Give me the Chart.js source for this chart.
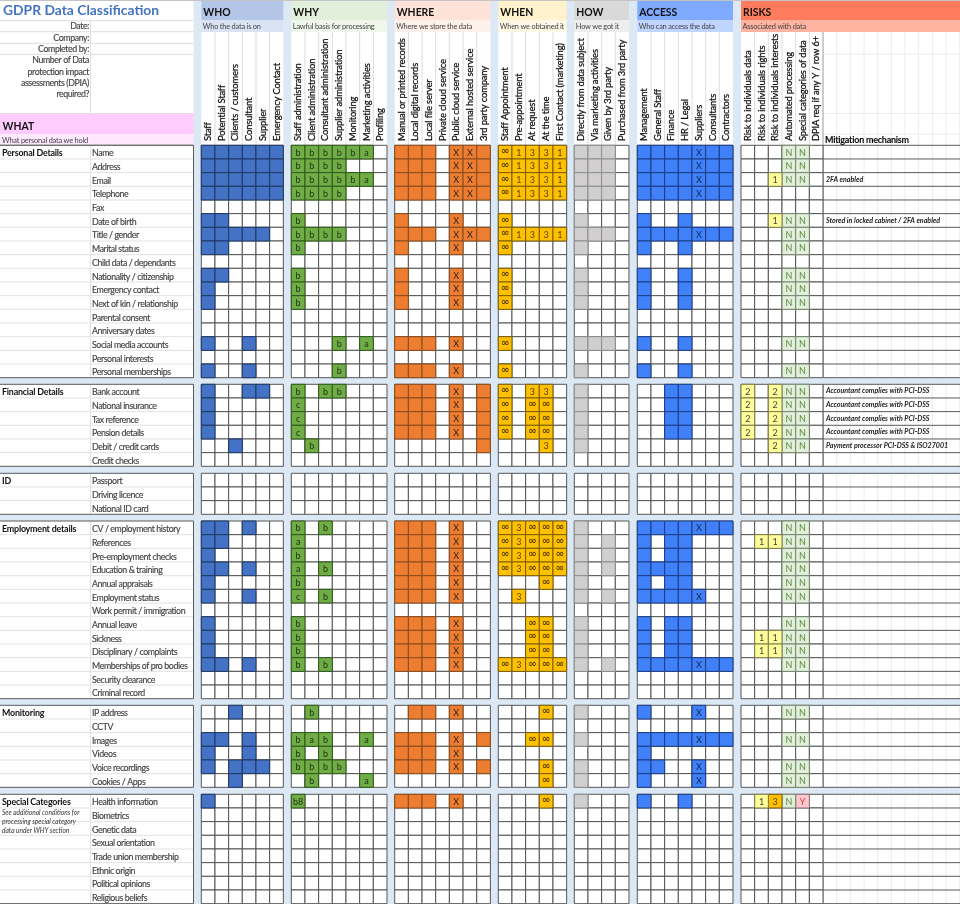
<!DOCTYPE html>
<html><head><meta charset="utf-8">
<style>html,body{margin:0;padding:0;background:#dce9f5}canvas{display:block}</style>
<script src="https://cdn.jsdelivr.net/npm/chart.js@4"></script>
</head><body><canvas id="c" width="960" height="904"></canvas>
<script>
// ---------- text ----------
const sectionNames=["Personal Details","Financial Details","ID","Employment details","Monitoring","Special Categories"];
const personalRows=["Name","Address","Email","Telephone","Fax","Date of birth","Title / gender","Marital status","Child data / dependants","Nationality / citizenship","Emergency contact","Next of kin / relationship","Parental consent","Anniversary dates","Social media accounts","Personal interests","Personal memberships"];
const financialRows=["Bank account","National insurance","Tax reference","Pension details","Debit / credit cards","Credit checks"];
const idRows=["Passport","Driving licence","National ID card"];
const employmentRows=["CV / employment history","References","Pre-employment checks","Education & training","Annual appraisals","Employment status","Work permit / immigration","Annual leave","Sickness","Disciplinary / complaints","Memberships of pro bodies","Security clearance","Criminal record"];
const monitoringRows=["IP address","CCTV","Images","Videos","Voice recordings","Cookies / Apps"];
const specialRows=["Health information","Biometrics","Genetic data","Sexual orientation","Trade union membership","Ethnic origin","Political opinions","Religious beliefs"];
const specialNote=["See additional conditions for","processing special category","data under WHY section"];
const formLabels=["Date:","Company:","Completed by:"];
const dpiaLabel=["Number of Data","protection impact","assessments (DPIA)","required?"];
const whoColumns=["Staff","Potential Staff","Clients / customers","Consultant","Supplier","Emergency Contact"];
const whyColumns=["Staff administration","Client administration","Consultant administration","Supplier administration","Monitoring","Marketing activities","Profiling"];
const whereColumns=["Manual or printed records","Local digital records","Local file server","Private cloud service","Public cloud service","External hosted service","3rd party company"];
const whenColumns=["Staff Appointment","Pre-appointment","At request","At the time","First Contact (marketing)"];
const howColumns=["Directly from data subject","Via marketing activities","Given by 3rd party","Purchased from 3rd party"];
const accessColumns=["Management","General Staff","Finance","HR / Legal","Suppliers","Consultants","Contractors"];
const riskColumns=["Risk to individuals data","Risk to individuals rights","Risk to individuals interests","Automated processing","Special categories of data","DPIA req if any Y / row 6+"];
// ---------- cell values, one string per row ('.' empty, 'o' filled, other = shown text) ----------
const whoCells=["oooooo","oooooo","oooooo","oooooo","......","oo....","ooooo.","oo....","......","oo....","o.....","o.....","......","......","o..o..","......","o..o..",
"o..oo.","o.....","o.....","o.....","..o...","......",
"......","......","......",
"oo.o..","oo....","o.....","oo.o..","o.....","o..o..","......","o.....","o.....","o.....","oo.o..","......","......",
"..o...","......","oo.o..","o..o..","o.ooo.","..o...",
"o.....","......","......","......","......","......","......","......"];
const whyCells=["bbbbba.","bbbb...","bbbbba.","bbbb...",".......","b......","bbbb...","b......",".......","b......","b......","b......",".......",".......","...b.a.",".......","...b...",
"b.bb...","c......","c......","c......",".b.....",".......",
".......",".......",".......",
"b.b....","a......","b......","a.b....","b......","c.b....",".......","b......","b......","b......","b.b....",".......",".......",
".b.....",".......","bab..a.","b.b....","bbbb...",".b...a.",
"8......",".......",".......",".......",".......",".......",".......","......."];
const whereCells=["ooo.XXo","ooo.XXo","ooo.XXo","ooo.XXo",".......","o...X..","ooo.XXo","o...X..",".......","o...X..","o...X..","o...X..",".......",".......","ooo.X..",".......","ooo.X..",
"ooo.X.o","ooo.X.o","ooo.X.o","ooo.X.o","......o",".......",
".......",".......",".......",
"ooo.X..","ooo.X..","ooo.X..","ooo.X..","ooo.X..","ooo.X..",".......","ooo.X..","ooo.X..","ooo.X..","ooo.X..",".......",".......",
".oo.X..",".......","ooo.X.o","ooo.X..","ooo.X.o",".......",
"ooo.X..",".......",".......",".......",".......",".......",".......","......."];
const whenCells=["∞1331","∞1331","∞1331","∞1331",".....","∞....","∞1331","∞....",".....","∞....","∞....","∞....",".....",".....","∞....",".....","∞....",
"∞.33.","∞.∞∞.","∞.∞∞.","∞.∞∞.","...3.",".....",
".....",".....",".....",
"∞3∞∞∞","∞3∞∞∞","∞3∞∞∞","∞3∞∞∞","...∞.",".3...",".....","..∞∞.","..∞∞.","..∞∞.","∞3∞∞∞",".....",".....",
"...∞.",".....","..∞∞.",".....","...∞.","...∞.",
"...∞.",".....",".....",".....",".....",".....",".....","....."];
const howCells=["ooo.","ooo.","ooo.","ooo.","....","o...","ooo.","o...","....","o...","o...","o...","....","....","ooo.","....","o...",
"o...","o...","o...","o...","o...","....",
"....","....","....",
"o...","o.o.","o.o.","o.o.","o...","o.o.","....","o...","o...","o...","o.o.","....","....",
"o...","....","o...","....","o...","o...",
"o...","....","....","....","....","....","....","...."];
const accessCells=["ooooXoo","ooooXoo","ooooXoo","ooooXoo",".......","o..o...","ooooXoo","o..o...",".......","o..o...","o..o...","o..o...",".......",".......","o..o...",".......","o..o...",
"..oo...","..oo...","..oo...","..oo...",".......",".......",
".......",".......",".......",
"ooooXoo","o.oo...","o.oo...","oooo...","o.oo...","ooooX..",".......","o.oo...","o.oo...","o.oo...","ooooXoo",".......",".......",
"o...X..",".......","ooooXoo","o......","oo..X..","o...X..",
"o..o...",".......",".......",".......",".......",".......",".......","......."];
const riskCells=["...NN.","...NN.","..1NN.","......","......","..1NN.","...NN.","...NN.","......","...NN.","...NN.","...NN.","......","......","...NN.","......","...NN.",
"2.2NN.","2.2NN.","2.2NN.","2.2NN.","..2NN.","......",
"......","......","......",
"...NN.",".11NN.","...NN.","...NN.","...NN.","...NN.","......","...NN.",".11NN.",".11NN.","...NN.","......","......",
"...NN.","......","...NN.","......","...NN.","...NN.",
".13NY.","......","......","......","......","......","......","......"];
const mitigationNotes={2:"2FA enabled",5:"Stored in locked cabinet / 2FA enabled",17:"Accountant complies with PCI-DSS",18:"Accountant complies with PCI-DSS",19:"Accountant complies with PCI-DSS",20:"Accountant complies with PCI-DSS",21:"Payment processor PCI-DSS & ISO27001"};

// ---------- layout (sheet pixels on the linear axes) ----------
const U=13.67;
const sectionTops=[145.3,384.3,473.3,521,705.3,794.3];
const sectionRows=[personalRows,financialRows,idRows,employmentRows,monitoringRows,specialRows];
const rowTop=[];sectionRows.forEach((s,i)=>s.forEach((_,j)=>rowTop.push(sectionTops[i]+j*U)));
const allRows=sectionRows.flat();
const groups=[
 {title:"WHO",sub:"Who the data is on",cols:whoColumns,cells:whoCells,left:201.3,head:"#b4c6e7",subHead:"#dae3f3",fill:"#4472c4",line:"#1f3864",ink:"#222"},
 {title:"WHY",sub:"Lawful basis for processing",cols:whyColumns,cells:whyCells,left:291.3,head:"#e2efda",subHead:"#eff6ea",fill:"#70ad47",line:"#2f5a18",ink:"#1d2f12"},
 {title:"WHERE",sub:"Where we store the data",cols:whereColumns,cells:whereCells,left:394.7,head:"#fde3d7",subHead:"#fef0ea",fill:"#ed7d31",line:"#8a4c1c",ink:"#2e2018"},
 {title:"WHEN",sub:"When we obtained it",cols:whenColumns,cells:whenCells,left:498.3,head:"#fff2cc",subHead:"#fff8e6",fill:"#ffc000",line:"#7a5e08",ink:"#5c4500"},
 {title:"HOW",sub:"How we got it",cols:howColumns,cells:howCells,left:574.3,head:"#d9d9d9",subHead:"#eeeeee",fill:"#d0cece",line:"#8f8f8f",ink:"#222"},
 {title:"ACCESS",sub:"Who can access the data",cols:accessColumns,cells:accessCells,left:637.3,head:"#7faaff",subHead:"#bfd4ff",fill:"#4080f8",line:"#1a3d85",ink:"#14264a"},
 {title:"RISKS",sub:"Associated with data",cols:riskColumns,cells:riskCells,left:741,head:"#ff7d5e",subHead:"#ffb3a1",fill:null,line:"#555",ink:"#333"}
];
const riskStyles={"1":["#ffff99","#7c7c4c","#444"],"2":["#ffff99","#7c7c4c","#444"],"3":["#ffc000","#7a5e08","#5c4500"],"N":["#e2efda","#77876e","#5b8a3f"],"Y":["#ffc7ce","#8c7478","#d03c3c"]};
const R=U/Math.SQRT2, FAM="Lato, 'Open Sans', sans-serif";

// ---------- datasets ----------
function ds(points,bg,line,ink){return{data:points,backgroundColor:bg,borderColor:line,borderWidth:1,pointStyle:'rect',pointRadius:R,pointHoverRadius:R,rotation:0,ink,showLine:false,clip:false};}
const blank=[];const sets=[];
groups.forEach(g=>{
  const filled=[];const risk={};
  g.cells.forEach((row,r)=>{
    [...row].forEach((c,i)=>{
      const p={x:g.left+(i+.5)*U,y:rowTop[r]+U/2,t:c==='8'?'b8':c};
      blank.push({x:p.x,y:p.y,t:'.'});
      if(c==='.')return;
      if(g.fill)filled.push(p);else(risk[c]=risk[c]||[]).push(p);
    });
  });
  if(g.fill)sets.push(ds(filled,g.fill,g.line,g.ink));
  Object.keys(risk).forEach(k=>{const s=riskStyles[k];sets.push(ds(risk[k],s[0],s[1],s[2]));});
});
sets.push(ds(blank,"#ffffff","#555555"));

// ---------- drawing helpers ----------
const sheetPlugin={id:'sheet',
 beforeDatasetsDraw(chart){
  const c=chart.ctx,X=v=>chart.scales.x.getPixelForValue(v),Y=v=>chart.scales.y.getPixelForValue(v);
  const rect=(a,b,w,h,col)=>{c.fillStyle=col;c.fillRect(X(a),Y(b),X(a+w)-X(a),Y(b+h)-Y(b));};
  const hl=(a,b,y,col)=>{c.strokeStyle=col;c.lineWidth=1;c.beginPath();c.moveTo(X(a),Y(y));c.lineTo(X(b),Y(y));c.stroke();};
  const vl=(x,a,b,col)=>{c.strokeStyle=col;c.lineWidth=1;c.beginPath();c.moveTo(X(x),Y(a));c.lineTo(X(x),Y(b));c.stroke();};
  rect(0,0,960,904,"#dce9f5");
  // top-left form block
  rect(0,0,193.5,114,"#ffffff");
  [20.7,31.7,43.3,54.3,113.5].forEach(y=>hl(0,193.5,y,"#dedede"));
  vl(90.5,20.7,113.5,"#dedede");
  rect(0,114,193.5,20,"#ffccff");rect(0,134,193.5,11.3,"#ffe9ff");
  // group headers
  groups.forEach((g,n)=>{
    const w=g.cols.length*U, right=n===6?960:g.left+w;
    rect(g.left,1,right-g.left,19,g.head);
    rect(g.left,20,right-g.left,12,g.subHead);
    rect(g.left,32,right-g.left,113.3,"#ffffff");
    g.cols.forEach((_,i)=>{if(i)vl(g.left+i*U,32,145.3,"#dcdcdc");});
  });
  const mx=823;
  for(let x=mx+U;x<960;x+=U)vl(x,32,145.3,"#ececec");
  [54,113.5,134].forEach(y=>hl(mx,960,y,"#ececec"));
  vl(mx,32,145.3,"#9a9a9a");
  hl(0,960,0.5,"#c4c4c4");
  hl(0,193.5,145.3,"#555");
  // section bodies
  sectionRows.forEach((s,i)=>{
    const t=sectionTops[i],b=t+s.length*U;
    rect(0,t,193.5,b-t,"#ffffff");
    rect(mx,t,960-mx,b-t,"#ffffff");
    for(let x=mx+U;x<960;x+=U)vl(x,t,b,"#ececec");
    for(let j=1;j<s.length;j++){hl(0,193.5,t+j*U,"#e2e2e2");}
    for(let j=0;j<=s.length;j++){hl(mx,960,t+j*U,"#5a5a5a");}
    vl(90.5,t,b,"#e2e2e2");
    hl(0,193.5,t,"#5a5a5a");hl(0,193.5,b,"#5a5a5a");
    vl(193.5,t,b,"#5a5a5a");
    vl(mx,t,b,"#8a8a8a");
  });
 },
 afterDatasetsDraw(chart){
  const c=chart.ctx,X=v=>chart.scales.x.getPixelForValue(v),Y=v=>chart.scales.y.getPixelForValue(v);
  const txt=(s,x,y,font,col,al,sp,heavy)=>{c.font=font;c.fillStyle=col;c.textAlign=al||'left';c.textBaseline='middle';c.letterSpacing=(sp||0)+'px';c.fillText(s,X(x),Y(y));if(heavy){c.strokeStyle=col;c.lineWidth=heavy;c.strokeText(s,X(x),Y(y));}c.letterSpacing='0px';};
  // cell texts
  chart.data.datasets.forEach((d,i)=>{
    const m=chart.getDatasetMeta(i);
    m.data.forEach((pt,j)=>{
      const t=d.data[j].t;if(t==='o'||t==='.')return;
      if(t==='∞'){c.font="bold 10.5px 'DejaVu Sans'";}else{c.font="9px "+FAM;}
      c.fillStyle=d.ink;c.textAlign='center';c.textBaseline='middle';
      c.fillText(t,pt.x,pt.y+(t==='∞'?-0.5:0.5));
    });
  });
  // header texts
  txt("GDPR Data Classification",3,11,"bold 13.85px "+FAM,"#4472c4");
  formLabels.forEach((s,i)=>txt(s,89,[26.5,38,49.3][i],"8.8px "+FAM,"#444",'right',-0.4,0.15));
  dpiaLabel.forEach((s,i)=>txt(s,89,60.5+i*11.3,"8.8px "+FAM,"#444",'right',-0.4,0.15));
  txt("WHAT",2.5,126.5,"bold 10.4px "+FAM,"#111");
  txt("What personal data we hold",2,140.3,"7.4px "+FAM,"#444",'left',-0.2);
  groups.forEach(g=>{
    txt(g.title,g.left+2,12.5,"bold 10.4px "+FAM,"#111");
    txt(g.sub,g.left+1.5,26.8,"7.4px "+FAM,"#444",'left',-0.2);
    g.cols.forEach((s,i)=>{
      c.save();c.translate(X(g.left+(i+.5)*U),Y(141));c.rotate(-Math.PI/2);
      c.font="9.4px "+FAM;c.letterSpacing='-0.15px';c.fillStyle="#111";c.strokeStyle="#111";c.lineWidth=0.25;c.textAlign='left';c.textBaseline='middle';c.fillText(s,0,0);c.strokeText(s,0,0);c.letterSpacing='0px';c.restore();
    });
  });
  txt("Mitigation mechanism",825,140,"bold 9px "+FAM,"#111",'left',-0.25,0.1);
  // row texts
  sectionNames.forEach((s,i)=>txt(s,2,sectionTops[i]+U/2+1.3,"bold 8.9px "+FAM,"#111",'left',-0.2));
  allRows.forEach((s,r)=>txt(s,92,rowTop[r]+U/2+1.5,"8.8px "+FAM,"#444",'left',-0.4,0.15));
  specialNote.forEach((s,i)=>txt(s,2,812.7+i*9.2,"italic 6.6px "+FAM,"#333"));
  Object.keys(mitigationNotes).forEach(r=>txt(mitigationNotes[r],826,rowTop[r]+U/2,"italic bold 7.05px "+FAM,"#222"));
 }
};

new Chart(document.getElementById('c'),{
 type:'scatter',
 data:{datasets:sets},
 plugins:[sheetPlugin],
 options:{responsive:false,animation:false,events:[],devicePixelRatio:1,
  layout:{padding:0,autoPadding:false},
  plugins:{legend:{display:false},tooltip:{enabled:false},title:{display:false}},
  scales:{x:{type:'linear',min:0,max:960,display:false},y:{type:'linear',min:0,max:904,reverse:true,display:false}}
 }
});
</script></body></html>
